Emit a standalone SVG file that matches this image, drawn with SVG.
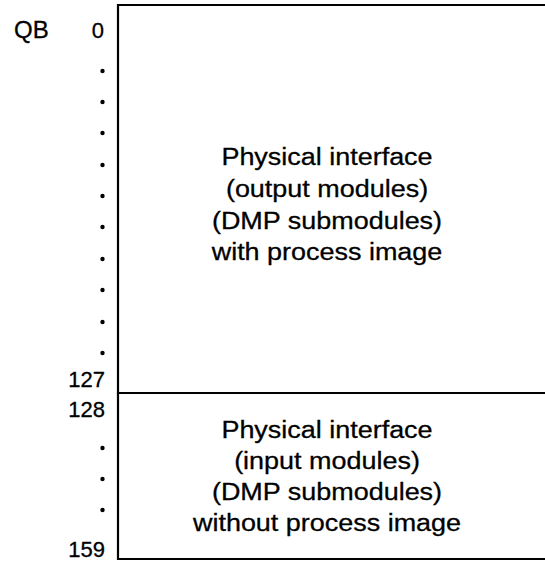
<svg xmlns="http://www.w3.org/2000/svg" width="545" height="564" viewBox="0 0 545 564">
  <style>
    .frame { stroke: #000; stroke-width: 2.2; fill: none; }
    .lbl { font-family: "Liberation Sans", Arial, sans-serif; font-size: 22px; fill: #000; stroke: #000; stroke-width: 0.3; }
    .num { text-anchor: end; }
    .body { font-family: "Liberation Sans", Arial, sans-serif; font-size: 24.5px; fill: #000; stroke: #000; stroke-width: 0.3; text-anchor: middle; }
    .dot { fill: #000; }
  </style>
  <rect width="545" height="564" fill="#fff"/>

  <!-- address scale -->
  <g id="scale">
    <text class="lbl" x="14" y="38" style="font-size:24px">QB</text>
    <text class="lbl num" x="104" y="38">0</text>
    <g class="dot">
      <circle cx="102.5" cy="71" r="2.2"/>
      <circle cx="102.5" cy="102" r="2.2"/>
      <circle cx="102.5" cy="133" r="2.2"/>
      <circle cx="102.5" cy="165" r="2.2"/>
      <circle cx="102.5" cy="196" r="2.2"/>
      <circle cx="102.5" cy="227" r="2.2"/>
      <circle cx="102.5" cy="259" r="2.2"/>
      <circle cx="102.5" cy="290" r="2.2"/>
      <circle cx="102.5" cy="322" r="2.2"/>
      <circle cx="102.5" cy="353" r="2.2"/>
      <circle cx="102.5" cy="448" r="2.2"/>
      <circle cx="102.5" cy="479" r="2.2"/>
      <circle cx="102.5" cy="510" r="2.2"/>
    </g>
    <text class="lbl num" x="105" y="387">127</text>
    <text class="lbl num" x="105" y="417">128</text>
    <text class="lbl num" x="105" y="557">159</text>
  </g>

  <!-- output area, QB 0..127 -->
  <g id="output-area">
    <path class="frame" d="M545 5 H118 V393 H545"/>
    <g transform="translate(327 0) scale(1.1 1)">
      <text class="body" x="0" y="165">Physical interface</text>
      <text class="body" x="0" y="197">(output modules)</text>
      <text class="body" x="0" y="229">(DMP submodules)</text>
      <text class="body" x="0" y="260">with process image</text>
    </g>
  </g>

  <!-- input area, QB 128..159 -->
  <g id="input-area">
    <path class="frame" d="M118 393 V559 H545"/>
    <g transform="translate(327 0) scale(1.1 1)">
      <text class="body" x="0" y="438">Physical interface</text>
      <text class="body" x="0" y="469">(input modules)</text>
      <text class="body" x="0" y="500">(DMP submodules)</text>
      <text class="body" x="0" y="531">without process image</text>
    </g>
  </g>
</svg>
